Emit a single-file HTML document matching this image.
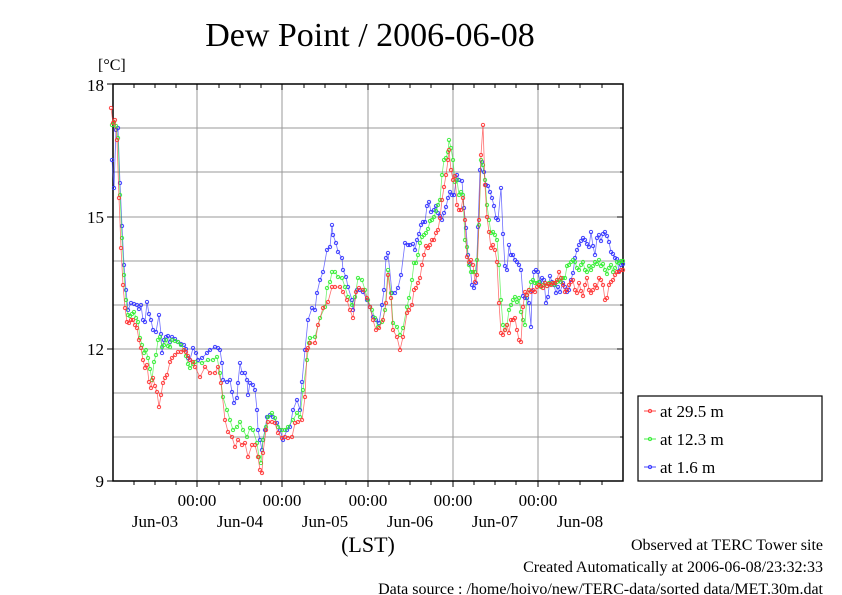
<!DOCTYPE html>
<html><head><meta charset="utf-8"><style>
body{margin:0;background:#fff;}
svg{display:block;font-family:"Liberation Serif",serif;}
</style></head><body>
<svg width="842" height="595" viewBox="0 0 842 595" xmlns="http://www.w3.org/2000/svg">
<defs>
<marker id="mr" markerUnits="userSpaceOnUse" markerWidth="6" markerHeight="6" refX="3" refY="3"><circle cx="3" cy="3" r="1.7" fill="none" stroke="#f33" stroke-width="0.9"/></marker>
<marker id="mg" markerUnits="userSpaceOnUse" markerWidth="6" markerHeight="6" refX="3" refY="3"><circle cx="3" cy="3" r="1.7" fill="none" stroke="#3e3" stroke-width="0.9"/></marker>
<marker id="mb" markerUnits="userSpaceOnUse" markerWidth="6" markerHeight="6" refX="3" refY="3"><circle cx="3" cy="3" r="1.7" fill="none" stroke="#33f" stroke-width="0.9"/></marker>
</defs>
<text x="370" y="46" font-size="34" text-anchor="middle">Dew Point / 2006-06-08</text>
<text x="98" y="70" font-size="16">[°C]</text>
<g stroke="#999" stroke-width="1">
<line x1="113" y1="128" x2="623" y2="128"/><line x1="113" y1="172" x2="623" y2="172"/><line x1="113" y1="217" x2="623" y2="217"/>
<line x1="113" y1="261" x2="623" y2="261"/><line x1="113" y1="305" x2="623" y2="305"/><line x1="113" y1="349" x2="623" y2="349"/>
<line x1="113" y1="393" x2="623" y2="393"/><line x1="113" y1="437" x2="623" y2="437"/>
<line x1="197" y1="84" x2="197" y2="481"/><line x1="282" y1="84" x2="282" y2="481"/><line x1="368" y1="84" x2="368" y2="481"/><line x1="453" y1="84" x2="453" y2="481"/><line x1="538" y1="84" x2="538" y2="481"/>
</g>
<g stroke="#000" stroke-width="1">
<path d="M134,84v4M155,84v4M176,84v4M219,84v4M240,84v4M261,84v4M304,84v4M325,84v4M346,84v4M389,84v4M410,84v4M431,84v4M474,84v4M495,84v4M516,84v4M559,84v4M580,84v4M602,84v4"/>
<path d="M134,481v4M155,481v4M176,481v4M219,481v4M240,481v4M261,481v4M304,481v4M325,481v4M346,481v4M389,481v4M410,481v4M431,481v4M474,481v4M495,481v4M516,481v4M559,481v4M580,481v4M602,481v4"/>
<path d="M197,481v6M282,481v6M368,481v6M453,481v6M538,481v6M197,84v6M282,84v6M368,84v6M453,84v6M538,84v6"/>
<path d="M107,84h6M107,217h6M107,349h6M107,481h6M623,217h-6M623,349h-6M623,128h-3M623,172h-3M623,261h-3M623,305h-3M623,393h-3M623,437h-3"/>
</g>
<rect x="113" y="84" width="510" height="397" fill="none" stroke="#000" stroke-width="1.5"/>
<g font-size="17" text-anchor="end"><text x="104" y="91">18</text><text x="104" y="223">15</text><text x="104" y="355">12</text><text x="104" y="487">9</text></g>
<g font-size="17" text-anchor="middle">
<text x="197" y="506">00:00</text><text x="282" y="506">00:00</text><text x="368" y="506">00:00</text><text x="453" y="506">00:00</text><text x="538" y="506">00:00</text>
<text x="155" y="527">Jun-03</text><text x="240" y="527">Jun-04</text><text x="325" y="527">Jun-05</text><text x="410" y="527">Jun-06</text><text x="495" y="527">Jun-07</text><text x="580" y="527">Jun-08</text>
<text x="368" y="552" font-size="22">(LST)</text>
</g>
<g font-size="16" text-anchor="end"><text x="823" y="550">Observed at TERC Tower site</text><text x="823" y="572">Created Automatically at 2006-06-08/23:32:33</text><text x="823" y="594">Data source : /home/hoivo/new/TERC-data/sorted  data/MET.30m.dat</text></g>
<g fill="none" stroke-width="0.8" stroke-opacity="0.7">
<polyline stroke="#33f" marker-start="url(#mb)" marker-mid="url(#mb)" marker-end="url(#mb)" points="112,160 114,188 116,130 118,128 120,183 122,226 124,265 126,290 128,310 131,303 134,304 137,305 139,309 141,305 143,320 145,322 147,302 149,314 151,320 153,330 156,332 159,315 161,334 162,353 164,340 166,337 168,336 170,342 172,337 175,339 178,342 181,344 184,345 186,349 188,358 190,360 193,348 196,353 198,360 202,358 207,353 210,350 215,347 218,348 220,350 222,363 223,380 227,382 230,380 232,392 234,403 237,398 238,383 240,363 242,373 245,373 247,380 248,395 250,383 253,385 255,390 257,410 258,430 260,440 262,450 263,440 265,430 267,417 270,415 273,417 277,423 280,430 283,440 287,430 290,427 293,410 297,400 300,410 302,382 305,350 308,320 312,308 315,310 317,293 320,280 323,272 327,250 330,247 332,225 333,235 336,243 338,252 342,258 343,270 346,277 348,287 352,300 353,310 357,290 360,290 363,292 367,300 370,307 373,317 376,320 379,323 382,305 384,290 386,258 388,253 392,293 395,293 398,288 401,275 405,243 408,245 410,245 413,244 415,250 417,240 419,234 421,225 423,222 425,222 427,206 429,202 431,212 434,210 436,206 438,213 440,216 442,220 444,213 446,207 448,198 450,192 452,195 454,195 457,175 459,180 462,181 464,208 466,228 468,255 470,264 472,285 474,288 476,283 478,227 480,170 482,162 484,172 486,185 488,186 490,192 492,198 494,206 496,218 498,220 501,188 503,234 505,266 507,270 509,245 511,255 513,255 515,260 517,262 519,265 521,270 523,296 525,298 527,298 529,303 531,327 532,291 534,272 536,270 538,272 540,282 542,278 544,280 546,303 548,297 550,276 552,282 554,285 556,293 558,287 560,292 563,283 565,287 567,292 569,290 571,280 573,273 575,258 577,250 579,245 581,241 583,238 585,240 587,244 589,247 591,232 593,246 595,255 597,238 599,235 601,241 603,234 605,232 607,236 609,242 611,252 613,254 615,258 617,259 619,271 621,265 623,264"/>
<polyline stroke="#3e3" marker-start="url(#mg)" marker-mid="url(#mg)" marker-end="url(#mg)" points="112,125 114,122 116,126 118,138 120,195 122,238 124,275 126,300 128,315 130,316 132,314 134,312 136,318 138,322 140,338 142,345 144,353 146,350 148,358 150,369 152,380 154,362 156,355 158,340 160,337 162,347 164,345 166,340 168,346 170,347 172,340 175,341 178,342 181,345 184,350 186,356 188,364 190,368 193,364 195,362 202,363 208,360 213,360 217,357 220,373 223,397 227,410 230,420 233,430 237,427 240,422 243,430 247,437 250,428 253,430 257,443 259,457 261,463 263,440 266,427 268,417 272,413 275,418 278,427 282,430 285,430 288,427 293,420 297,413 300,417 303,390 307,360 309,343 310,338 315,337 320,318 325,307 327,288 330,282 332,272 335,272 338,277 342,278 345,287 348,297 352,305 355,297 358,278 362,280 365,290 368,300 372,310 375,318 378,327 382,322 385,310 388,270 391,293 393,323 397,327 400,335 403,328 407,307 409,298 412,280 414,263 416,263 418,255 420,243 422,237 424,235 426,233 428,229 430,221 432,220 434,217 436,211 438,205 440,200 442,175 444,160 446,158 448,152 449,140 451,148 453,160 455,182 457,180 459,195 461,192 463,195 465,240 467,247 469,265 471,272 473,272 475,272 477,260 479,225 481,160 483,165 485,180 487,205 489,220 491,233 493,232 495,235 497,240 499,265 501,300 503,325 505,330 507,325 509,310 511,305 513,300 515,297 517,302 519,298 521,312 523,320 525,325 527,295 529,290 531,282 533,280 535,283 537,283 539,282 541,287 543,285 545,283 547,286 549,283 551,284 553,283 555,285 557,282 559,280 561,282 563,278 565,278 567,266 569,265 571,262 573,260 575,262 577,268 579,270 581,265 583,262 585,270 587,272 589,266 591,270 593,266 595,262 597,264 599,260 601,266 603,264 605,270 607,274 609,268 611,265 613,272 615,268 617,262 619,263 621,261 623,261"/>
<polyline stroke="#f33" marker-start="url(#mr)" marker-mid="url(#mr)" marker-end="url(#mr)" points="111,108 113,123 115,120 117,140 119,198 121,248 123,285 125,308 127,322 129,323 131,320 133,320 135,325 137,328 139,340 141,348 143,360 145,368 147,365 149,382 151,388 153,378 155,386 157,392 159,407 161,395 163,383 165,378 167,375 170,362 172,358 175,355 178,352 181,352 184,350 186,352 188,356 190,360 193,362 195,367 200,377 205,367 210,373 215,373 218,367 221,383 225,420 228,432 232,437 235,447 238,440 242,445 245,443 248,457 252,445 255,445 258,457 260,470 262,473 263,453 266,430 268,422 272,422 275,423 278,433 282,438 285,437 288,438 292,437 295,423 298,422 302,420 305,397 307,350 308,348 310,343 315,343 318,325 323,308 328,302 332,287 335,287 340,287 343,292 347,300 350,310 353,318 356,292 359,288 363,290 367,298 370,307 373,320 376,330 379,328 383,320 386,303 388,275 391,298 393,330 397,337 400,350 403,337 407,313 409,310 412,305 414,290 416,288 418,283 420,278 422,265 424,255 426,246 428,248 430,245 432,240 434,240 436,233 438,230 440,218 442,200 444,187 446,175 448,160 449,150 451,170 453,180 455,176 457,205 459,210 461,210 463,198 465,220 467,257 469,262 471,260 473,265 475,282 477,275 479,220 481,155 483,125 485,185 487,217 489,232 491,248 493,245 495,250 497,262 499,303 501,333 503,335 505,330 507,325 509,333 511,320 513,320 515,318 517,330 519,340 521,342 523,307 525,292 527,295 529,290 531,292 533,290 535,292 537,287 539,285 541,286 543,288 545,283 547,286 549,284 551,285 553,283 555,283 557,280 559,272 561,278 563,285 565,292 567,290 569,285 571,282 573,280 575,290 577,293 579,283 581,291 583,296 585,285 587,278 589,290 591,293 593,290 595,285 597,288 599,278 601,280 603,285 605,300 607,298 609,285 611,282 613,280 615,275 617,272 619,272 621,270 623,270"/>
</g>
<rect x="638" y="396" width="184" height="85" fill="#fff" stroke="#000" stroke-width="1.2"/>
<g stroke-width="0.9" fill="none">
<line x1="644" y1="411" x2="656" y2="411" stroke="#f33"/><circle cx="650" cy="411" r="1.7" stroke="#f33"/>
<line x1="644" y1="439" x2="656" y2="439" stroke="#3e3"/><circle cx="650" cy="439" r="1.7" stroke="#3e3"/>
<line x1="644" y1="467" x2="656" y2="467" stroke="#33f"/><circle cx="650" cy="467" r="1.7" stroke="#33f"/>
</g>
<g font-size="17"><text x="660" y="417">at 29.5 m</text><text x="660" y="445">at 12.3 m</text><text x="660" y="473">at 1.6 m</text></g>
</svg>
</body></html>
